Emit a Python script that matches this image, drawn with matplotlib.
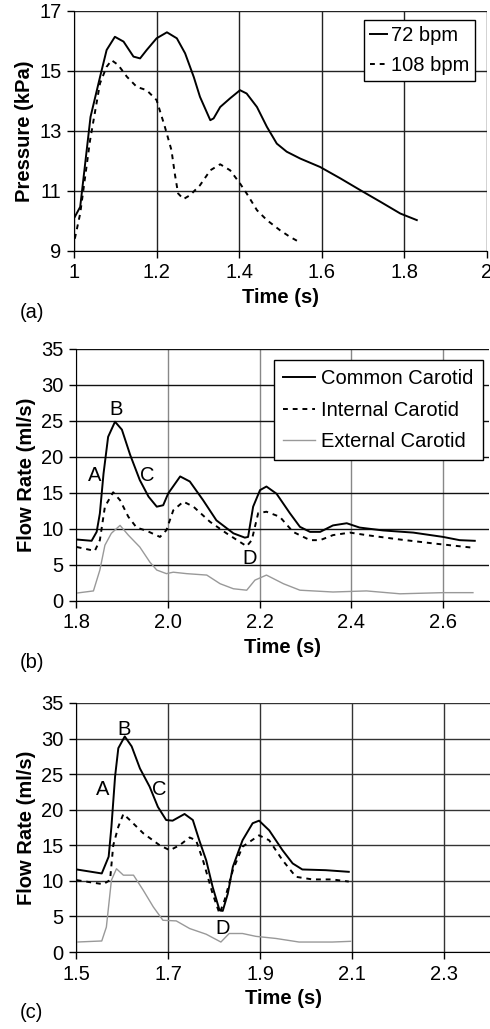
import matplotlib
matplotlib.use('Agg')
import matplotlib.pyplot as plt

plt.rcParams['font.family'] = ['Liberation Sans', 'DejaVu Sans']
plt.rcParams['font.size'] = 14.5

# (a) pressure
t_72 = [1.002, 1.015, 1.040, 1.063, 1.079, 1.099, 1.12, 1.144, 1.16, 1.176, 1.2, 1.225,
        1.249, 1.269, 1.29, 1.305, 1.33, 1.338, 1.354, 1.378, 1.402, 1.418, 1.443, 1.467,
        1.491, 1.515, 1.548, 1.596, 1.645, 1.693, 1.742, 1.79, 1.83]
p_72 = [10.14, 10.47, 13.47, 14.8, 15.7, 16.14, 15.98, 15.48, 15.42, 15.7, 16.09, 16.29,
        16.09, 15.59, 14.8, 14.14, 13.36, 13.42, 13.8, 14.09, 14.36, 14.25, 13.8, 13.14,
        12.58, 12.31, 12.08, 11.8, 11.42, 11.03, 10.64, 10.25, 10.03]
t_108 = [1.002, 1.015, 1.039, 1.063, 1.079, 1.091, 1.107, 1.128, 1.152, 1.176, 1.2, 1.22,
         1.236, 1.244, 1.252, 1.265, 1.281, 1.305, 1.33, 1.354, 1.378, 1.402, 1.418, 1.443,
         1.467, 1.499, 1.523, 1.548]
p_108 = [9.41, 10.25, 12.7, 14.59, 15.14, 15.36, 15.2, 14.81, 14.47, 14.36, 14.03, 13.14,
         12.36, 11.58, 10.92, 10.73, 10.86, 11.19, 11.69, 11.89, 11.69, 11.25, 10.92, 10.36,
         10.03, 9.69, 9.47, 9.28]

# (b) flow, 72 bpm
tb_cc = [1.8015, 1.834, 1.845, 1.852, 1.86, 1.87, 1.885, 1.9, 1.918, 1.939, 1.958, 1.976,
         1.99, 2.001, 2.027, 2.048, 2.077, 2.106, 2.143, 2.168, 2.175, 2.186, 2.201, 2.215,
         2.237, 2.266, 2.288, 2.31, 2.332, 2.36, 2.39, 2.418, 2.469, 2.535, 2.6, 2.636, 2.669]
qb_cc = [8.54, 8.36, 9.6, 12.16, 17.7, 22.8, 24.9, 23.8, 20.3, 16.8, 14.5, 13.1,
         13.3, 14.95, 17.3, 16.6, 14.0, 11.2, 9.4, 8.8, 8.9, 13.1, 15.4, 15.9,
         14.9, 12.2, 10.3, 9.6, 9.6, 10.5, 10.8, 10.2, 9.8, 9.5, 8.9, 8.45, 8.36]
tb_ic = [1.8015, 1.841, 1.852, 1.863, 1.881, 1.896, 1.914, 1.932, 1.954, 1.983, 1.997,
         2.012, 2.034, 2.056, 2.092, 2.128, 2.172, 2.183, 2.197, 2.215, 2.244, 2.273, 2.31,
         2.332, 2.36, 2.397, 2.433, 2.506, 2.578, 2.665]
qb_ic = [7.5, 6.96, 8.45, 13.1, 15.1, 14.0, 11.7, 10.2, 9.75, 8.9, 9.84,
         12.6, 13.8, 13.1, 11.0, 9.4, 7.6, 8.45, 12.2, 12.4, 11.7, 9.6, 8.45,
         8.45, 9.15, 9.5, 9.15, 8.54, 8.0, 7.4]
tb_ec = [1.8015, 1.838, 1.852, 1.863, 1.877, 1.896, 1.914, 1.939, 1.961, 1.976, 1.997,
         2.012, 2.041, 2.085, 2.114, 2.143, 2.172, 2.19, 2.215, 2.252, 2.288, 2.36, 2.433,
         2.506, 2.6, 2.665]
qb_ec = [1.1, 1.4, 4.3, 7.75, 9.4, 10.5, 9.15, 7.5, 5.4, 4.3, 3.8,
         4.0, 3.8, 3.6, 2.4, 1.7, 1.5, 2.9, 3.6, 2.4, 1.5, 1.25, 1.4,
         1.0, 1.16, 1.16]

# (c) flow, 108 bpm
tc_cc = [1.5015, 1.556, 1.571, 1.577, 1.585, 1.592, 1.606, 1.621, 1.639, 1.66, 1.678,
         1.696, 1.71, 1.736, 1.754, 1.768, 1.783, 1.797, 1.812, 1.819, 1.83, 1.841, 1.862,
         1.884, 1.898, 1.92, 1.949, 1.971, 1.992, 2.043, 2.093]
qc_cc = [11.6, 11.04, 13.4, 17.6, 24.7, 28.65, 30.3, 28.9, 25.8, 23.25, 20.4,
         18.55, 18.46, 19.4, 18.55, 15.7, 12.9, 9.16, 5.87, 5.78, 8.2, 11.98, 15.7,
         18.1, 18.46, 17.1, 14.3, 12.45, 11.6, 11.5, 11.27]
tc_ic = [1.5015, 1.559, 1.574, 1.581, 1.592, 1.603, 1.617, 1.646, 1.682, 1.704, 1.725,
         1.747, 1.761, 1.776, 1.797, 1.812, 1.823, 1.841, 1.862, 1.898, 1.92, 1.949, 1.978,
         2.014, 2.057, 2.093]
qc_ic = [10.1, 9.53, 10.1, 15.0, 17.6, 19.4, 18.55, 16.7, 15.0, 14.3, 15.0,
         16.1, 15.7, 12.9, 8.2, 5.4, 7.3, 11.5, 14.8, 16.4, 15.7, 12.9, 10.57,
         10.2, 10.2, 9.9]
tc_ec = [1.5015, 1.556, 1.566, 1.577, 1.588, 1.603, 1.625, 1.646, 1.668, 1.689, 1.718,
         1.747, 1.783, 1.815, 1.833, 1.862, 1.891, 1.935, 1.985, 2.057, 2.097]
qc_ec = [1.4, 1.55, 3.5, 10.1, 11.7, 10.8, 10.8, 8.7, 6.34, 4.46, 4.37,
         3.3, 2.5, 1.4, 2.6, 2.6, 2.2, 1.9, 1.4, 1.4, 1.5]

labels_abcd = ['A', 'B', 'C', 'D']
pos_b = [(1.84, 17.4), (1.887, 26.6), (1.955, 17.4), (2.179, 5.9)]
pos_c = [(1.558, 22.8), (1.605, 31.3), (1.68, 22.8), (1.818, 3.3)]

fig = plt.figure(figsize=(4.9, 10.29), dpi=100)
W, H = 490, 1029


def make_axes(l, r, top, bot):
    ax = fig.add_axes([l / W, 1 - bot / H, (r - l) / W, (bot - top) / H])
    for s in ['top', 'right']:
        ax.spines[s].set_visible(False)
    ax.tick_params(direction='out', length=5, width=1, pad=4)
    ax.set_axisbelow(True)
    return ax


dash = (0, (2.5, 2.5))

# panel a
ax = make_axes(74, 487, 11, 251)
ax.plot(t_72, p_72, color='black', lw=1.4, label='72 bpm')
ax.plot(t_108, p_108, color='black', lw=1.4, ls=dash, label='108 bpm')
ax.set_xlim(1, 2)
ax.set_ylim(9, 17)
ax.set_xticks([1, 1.2, 1.4, 1.6, 1.8, 2])
ax.set_xticklabels(['1', '1.2', '1.4', '1.6', '1.8', '2'])
ax.set_yticks([9, 11, 13, 15, 17])
ax.grid(True, color='#222222', lw=1)
ax.set_xlabel('Time (s)', fontweight='bold')
ax.set_ylabel('Pressure (kPa)', fontweight='bold')
leg = ax.legend(loc='upper right', bbox_to_anchor=(0.971, 0.9625), borderaxespad=0,
                handlelength=0.8, handletextpad=0.2, fancybox=False, framealpha=1,
                edgecolor='black', borderpad=0.3, labelspacing=0.55)
leg.get_frame().set_linewidth(1)
fig.text(20 / W, 1 - 312 / H, '(a)', va='center', ha='left')

# panel b
ax = make_axes(76, 489, 349, 601)
ax.plot(tb_cc, qb_cc, color='black', lw=1.4, label='Common Carotid')
ax.plot(tb_ic, qb_ic, color='black', lw=1.4, ls=dash, label='Internal Carotid')
ax.plot(tb_ec, qb_ec, color='#999999', lw=1.0, label='External Carotid')
ax.set_xlim(1.8, 2.7)
ax.set_ylim(0, 35)
ax.set_xticks([1.8, 2.0, 2.2, 2.4, 2.6])
ax.set_xticklabels(['1.8', '2.0', '2.2', '2.4', '2.6'])
ax.set_yticks(range(0, 36, 5))
ax.grid(True, axis='y', color='#111111', lw=1)
ax.grid(True, axis='x', color='#888888', lw=1)
ax.set_xlabel('Time (s)', fontweight='bold')
ax.set_ylabel('Flow Rate (ml/s)', fontweight='bold')
for lab, (x, y) in zip(labels_abcd, pos_b):
    ax.text(x, y, lab, ha='center', va='center')
leg = ax.legend(loc='upper right', bbox_to_anchor=(0.985, 0.956), borderaxespad=0,
                handlelength=1.6, handletextpad=0.3, fancybox=False, framealpha=1,
                edgecolor='black', borderpad=0.45, labelspacing=0.62)
leg.get_frame().set_linewidth(1)
fig.text(20 / W, 1 - 662 / H, '(b)', va='center', ha='left')

# panel c
ax = make_axes(76, 490, 703, 952)
ax.plot(tc_cc, qc_cc, color='black', lw=1.4)
ax.plot(tc_ic, qc_ic, color='black', lw=1.4, ls=dash)
ax.plot(tc_ec, qc_ec, color='#999999', lw=1.0)
ax.set_xlim(1.5, 2.4)
ax.set_ylim(0, 35)
ax.set_xticks([1.5, 1.7, 1.9, 2.1, 2.3])
ax.set_yticks(range(0, 36, 5))
ax.grid(True, color='#333333', lw=1)
ax.set_xlabel('Time (s)', fontweight='bold')
ax.set_ylabel('Flow Rate (ml/s)', fontweight='bold')
for lab, (x, y) in zip(labels_abcd, pos_c):
    ax.text(x, y, lab, ha='center', va='center')
fig.text(20 / W, 1 - 1012 / H, '(c)', va='center', ha='left')

fig.savefig('out.png', dpi=100)
